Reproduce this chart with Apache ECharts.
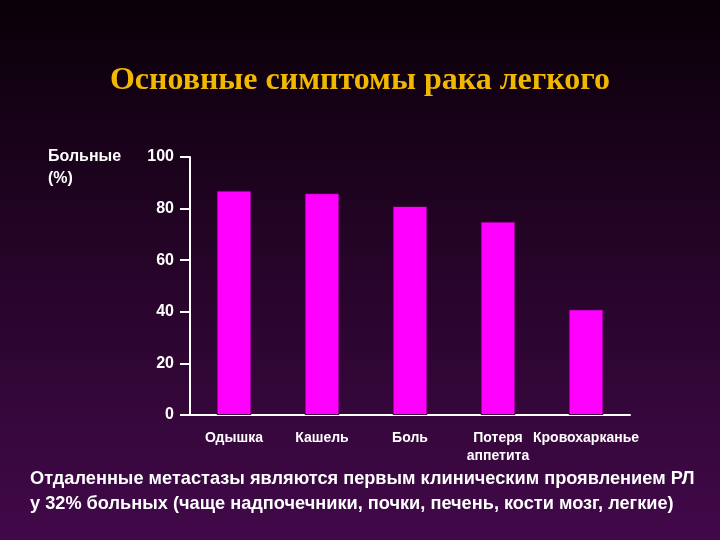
<!DOCTYPE html>
<html><head><meta charset="utf-8">
<script src="https://cdn.jsdelivr.net/npm/echarts@6/dist/echarts.min.js"></script>
<style>html,body{margin:0;padding:0;}#c{width:720px;height:540px;}</style>
</head><body><div id="c"></div>
<script>
var categories = ['Одышка', 'Кашель', 'Боль', 'Потеря\nаппетита', 'Кровохарканье'];
var values = [87, 86, 81, 75, 41];

var chart = echarts.init(document.getElementById('c'));
chart.setOption({
    backgroundColor: new echarts.graphic.LinearGradient(0, 0, 0, 1, [
        {offset: 0, color: '#0a0008'},
        {offset: 1, color: '#42094a'}
    ]),
    title: {
        text: 'Основные симптомы рака легкого',
        left: 'center', top: 60,
        textStyle: {color: '#f0b800', fontFamily: 'Liberation Serif', fontSize: 32, fontWeight: 'bold'}
    },
    graphic: [
        {type: 'text', left: 48, top: 146, style: {text: 'Больные\n(%)', fill: '#fff', font: 'bold 16px "Liberation Sans"', lineHeight: 22}},
        {type: 'text', left: 30, top: 466, style: {text: 'Отдаленные метастазы являются первым клиническим проявлением РЛ\nу 32% больных (чаще надпочечники, почки, печень, кости мозг, легкие)', fill: '#fff', font: 'bold 18.2px "Liberation Sans"', lineHeight: 25}}
    ],
    grid: {left: 190, right: 90, top: 157, bottom: 125},
    xAxis: {
        type: 'category', data: categories,
        axisLine: {lineStyle: {color: '#fff', width: 2}},
        axisTick: {show: false},
        axisLabel: {color: '#fff', fontSize: 14, fontWeight: 'bold', fontFamily: 'Liberation Sans', margin: 14, interval: 0, lineHeight: 18}
    },
    yAxis: {
        type: 'value', min: 0, max: 100, interval: 20,
        axisLine: {show: true, lineStyle: {color: '#fff', width: 2}},
        axisTick: {show: true, length: 10, lineStyle: {color: '#fff', width: 2}},
        splitLine: {show: false},
        axisLabel: {color: '#fff', fontSize: 16, fontWeight: 'bold', fontFamily: 'Liberation Sans', margin: 16}
    },
    series: [{
        type: 'bar', data: values, barWidth: 35,
        itemStyle: {color: '#ff00ff', borderColor: '#400040', borderWidth: 1}
    }]
});
</script></body></html>
